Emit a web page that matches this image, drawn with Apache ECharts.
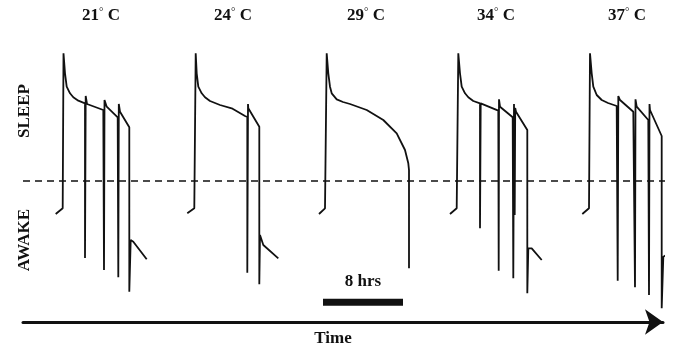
<!DOCTYPE html>
<html>
<head>
<meta charset="utf-8">
<script src="https://cdn.jsdelivr.net/npm/echarts@6/dist/echarts.min.js"></script>
<style>
  html, body { margin: 0; padding: 0; background: #fff; }
  #chart { width: 692px; height: 354px; }
</style>
</head>
<body>
<div id="chart"></div>
<script>
// time in hours, level: >0 sleep, <0 awake (dashed line = 0)
const temps = [21, 24, 29, 34, 37];
const labelHours = [7.8, 21.0, 34.3, 47.3, 60.4];
const labelLevel = 16.5;

const trace21 = [
  [3.27, -3.3], [3.97, -2.73], [4.05, -2.73], [4.05, 12.77], [4.2, 10.77], [4.37, 9.43],
  [4.7, 8.77], [5.03, 8.37], [5.53, 8.03], [6.2, 7.77],
  [6.2, -7.7], [6.27, 8.5], [6.4, 7.7], [8.03, 7.1],
  [8.1, -8.9], [8.15, 8.1], [8.37, 7.43], [9.47, 6.37],
  [9.53, -9.63], [9.58, 7.7], [9.7, 6.93], [10.63, 5.37],
  [10.63, -11.07], [10.77, -5.9], [11.03, -6.07], [12.37, -7.83]
];
const trace24 = [
  [16.43, -3.23], [17.13, -2.73], [17.27, -2.73], [17.27, 12.77], [17.37, 10.77], [17.53, 9.43],
  [17.87, 8.77], [18.2, 8.37], [18.7, 8.0], [19.7, 7.6], [20.87, 7.27], [22.2, 6.5], [22.43, 6.4],
  [22.43, -9.17], [22.5, 7.7], [22.53, 7.27], [23.63, 5.43],
  [23.63, -10.33], [23.7, -5.4], [24.03, -6.4], [25.53, -7.73]
];
const trace29 = [
  [29.6, -3.3], [30.2, -2.73], [30.37, -2.73], [30.37, 12.77], [30.53, 10.77], [30.7, 9.43],
  [30.87, 8.77], [31.37, 8.17], [32.0, 7.9], [32.7, 7.7], [34.37, 7.1], [36.03, 6.1],
  [37.37, 4.77], [38.2, 3.1], [38.53, 1.77], [38.6, 1.1], [38.6, -8.73]
];
const trace34 = [
  [42.7, -3.3], [43.37, -2.73], [43.53, -2.73], [43.53, 12.77], [43.7, 10.77], [43.87, 9.43],
  [44.2, 8.77], [44.53, 8.37], [45.03, 8.0], [45.7, 7.77],
  [45.7, -4.73], [45.77, 7.77], [45.87, 7.7], [47.53, 7.03],
  [47.57, -8.97], [47.6, 8.17], [47.7, 7.43], [48.97, 6.37],
  [49.03, -9.73], [49.1, 7.7], [49.17, -3.4], [49.22, 7.3], [49.3, 6.93], [50.43, 5.1],
  [50.43, -11.23], [50.53, -6.73], [50.87, -6.73], [51.87, -7.9]
];
const trace37 = [
  [55.93, -3.3], [56.6, -2.73], [56.7, -2.73], [56.7, 12.77], [56.87, 10.77], [57.03, 9.43],
  [57.37, 8.6], [57.87, 8.1], [58.5, 7.8], [59.37, 7.5],
  [59.47, -9.97], [59.53, 8.5], [59.7, 8.1], [61.03, 6.93],
  [61.2, -10.63], [61.25, 8.17], [61.37, 7.43], [62.53, 6.1],
  [62.6, -11.4], [62.65, 7.7], [62.7, 7.1], [63.87, 4.5],
  [63.87, -12.73], [64.03, -7.57], [64.37, -7.4], [65.03, -8.07]
];
const traces = [trace21, trace24, trace29, trace34, trace37];

const scaleBar = [[30, -12.13], [38, -12.13]];
const scaleLabel = [[34, -10.1]];
const thresholdLine = [[0, 0], [64.5, 0]];

const serif = "'Liberation Serif', 'DejaVu Serif', serif";
const ink = '#111';

const chart = echarts.init(document.getElementById('chart'));

function plainLine(data, lineStyle) {
  return {
    type: 'line',
    data: data,
    showSymbol: false,
    symbol: 'none',
    clip: false,
    animation: false,
    lineStyle: Object.assign({ color: ink }, lineStyle)
  };
}

const series = [plainLine(thresholdLine, { width: 1.5, type: [7, 5] })];
traces.forEach(d => series.push(plainLine(d, { width: 1.8 })));
series.push(plainLine(scaleBar, { width: 7, cap: 'butt' }));

// scatter labels: 8 hrs + temperatures
series.push({
  type: 'scatter',
  data: scaleLabel,
  symbolSize: 0,
  itemStyle: { opacity: 1 },
  animation: false,
  label: {
    show: true,
    position: 'inside',
    formatter: '8 hrs',
    color: ink,
    fontFamily: serif,
    fontWeight: 'bold',
    fontSize: 17
  }
});

series.push({
  type: 'scatter',
  data: labelHours.map(h => [h, labelLevel]),
  symbolSize: 0,
  itemStyle: { opacity: 1 },
  animation: false,
  label: {
    show: true,
    position: 'inside',
    formatter: p => '{a|' + temps[p.dataIndex] + '}{b|°}{a| C}',
    rich: {
      a: { color: ink, fontFamily: serif, fontWeight: 'bold', fontSize: 17 },
      b: { color: ink, fontFamily: serif, fontSize: 11, verticalAlign: 'top', padding: [0, 0, 8, 0] }
    }
  }
});

chart.setOption({
  animation: false,
  grid: { left: 23, right: 29, top: 0, bottom: 32 },
  xAxis: {
    type: 'value',
    min: 0,
    max: 64,
    axisLine: {
      show: true,
      onZero: false,
      symbol: ['none', 'arrow'],
      symbolSize: [19, 18],
      lineStyle: { color: ink, width: 3 }
    },
    axisTick: { show: false },
    axisLabel: { show: false },
    splitLine: { show: false }
  },
  yAxis: {
    type: 'value',
    min: -14.1,
    max: 18.1,
    show: false,
    splitLine: { show: false }
  },
  graphic: [
    {
      type: 'text', x: 25, y: 111, rotation: Math.PI / 2,
      style: { text: 'SLEEP', fill: ink, font: 'bold 17px ' + serif, align: 'center', verticalAlign: 'middle' }
    },
    {
      type: 'text', x: 25, y: 240, rotation: Math.PI / 2,
      style: { text: 'AWAKE', fill: ink, font: 'bold 17px ' + serif, align: 'center', verticalAlign: 'middle' }
    },
    {
      type: 'text', x: 333, y: 339,
      style: { text: 'Time', fill: ink, font: 'bold 17px ' + serif, align: 'center', verticalAlign: 'middle' }
    }
  ],
  series: series
});
</script>
</body>
</html>
